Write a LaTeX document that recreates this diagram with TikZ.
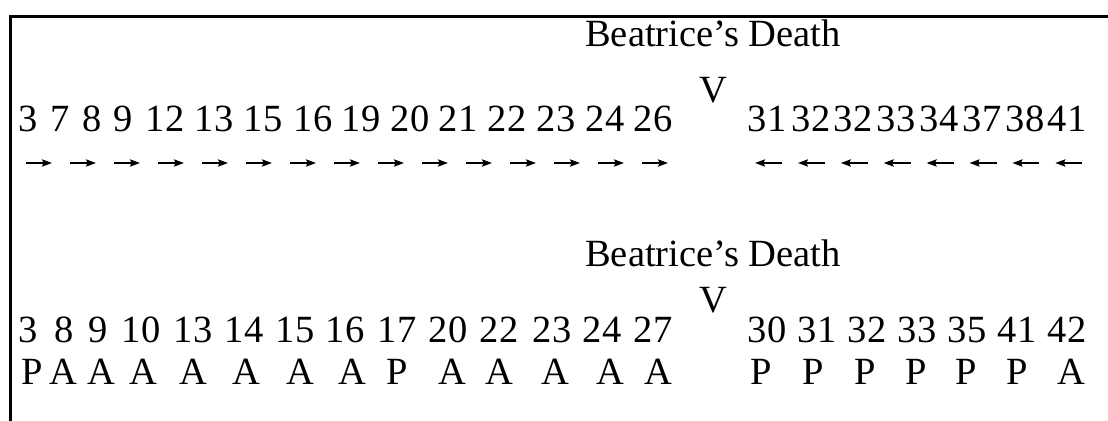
\documentclass[tikz,border=0pt]{standalone}
\usepackage{fontspec}
\setmainfont{Liberation Serif}
\usetikzlibrary{arrows.meta}

\tikzstyle{num} = [anchor=base, inner sep=0pt, font=\fontsize{19.25}{22}\selectfont]
\tikzstyle{fwd} = [line width=0.9pt, -{Stealth[length=5pt, width=3.6pt, inset=0.8pt]}]

\begin{document}
\begin{tikzpicture}[x=0.5pt, y=-0.5pt]
	\useasboundingbox (0,0) rectangle (1108,421);
	% frame
	\draw[line width=1.5pt] (10,421) -- (10,16.5) -- (1108,16.5);
	% upper sequence
	\node[num] (death1) at (713,47) {Beatrice’s Death};
	\node[num] (v1) at (713,103) {V};
	\foreach \x/\n [count=\i] in {28/3, 60/7, 92/8, 123/9, 165/12, 214/13, 263/15,
	        313/16, 361/19, 410/20, 458/21, 507/22, 556/23, 605/24, 653/26}
	    \node[num] (upl\i) at (\x,132) {\n};
	\foreach \x/\n [count=\i] in {767/31, 811/32, 853/32, 896/33, 939/34, 982/37,
	        1025/38, 1067/41}
	    \node[num] (upr\i) at (\x,132) {\n};
	\foreach \k in {0,...,14}
	    \draw[fwd] ({26+44*\k},163) -- ++(26,0);
	\foreach \k in {0,...,7}
	    \draw[fwd] ({782+42.9*\k},163) -- ++(-27,0);
	% lower sequence
	\node[num] (death2) at (713,267) {Beatrice’s Death};
	\node[num] (v2) at (713,313) {V};
	\foreach \x/\n [count=\i] in {28/3, 64/8, 98/9, 141/10, 193/13, 244/14, 295/15,
	        345/16, 397/17, 448/20, 499/22, 552/23, 602/24, 653/27}
	    \node[num] (lol\i) at (\x,343) {\n};
	\foreach \x/\n [count=\i] in {767/30, 817/31, 867/32, 917/33, 967/35, 1017/41,
	        1067/42}
	    \node[num] (lor\i) at (\x,343) {\n};
	\foreach \x/\n [count=\i] in {32/P, 63/A, 101/A, 143/A, 193/A, 246/A, 300/A,
	        352/A, 397/P, 452/A, 499/A, 555/A, 610/A, 658/A}
	    \node[num] (tagl\i) at (\x,385) {\n};
	\foreach \x/\n [count=\i] in {761/P, 813/P, 865/P, 916/P, 966/P, 1017/P, 1071/A}
	    \node[num] (tagr\i) at (\x,385) {\n};
\end{tikzpicture}
\end{document}
